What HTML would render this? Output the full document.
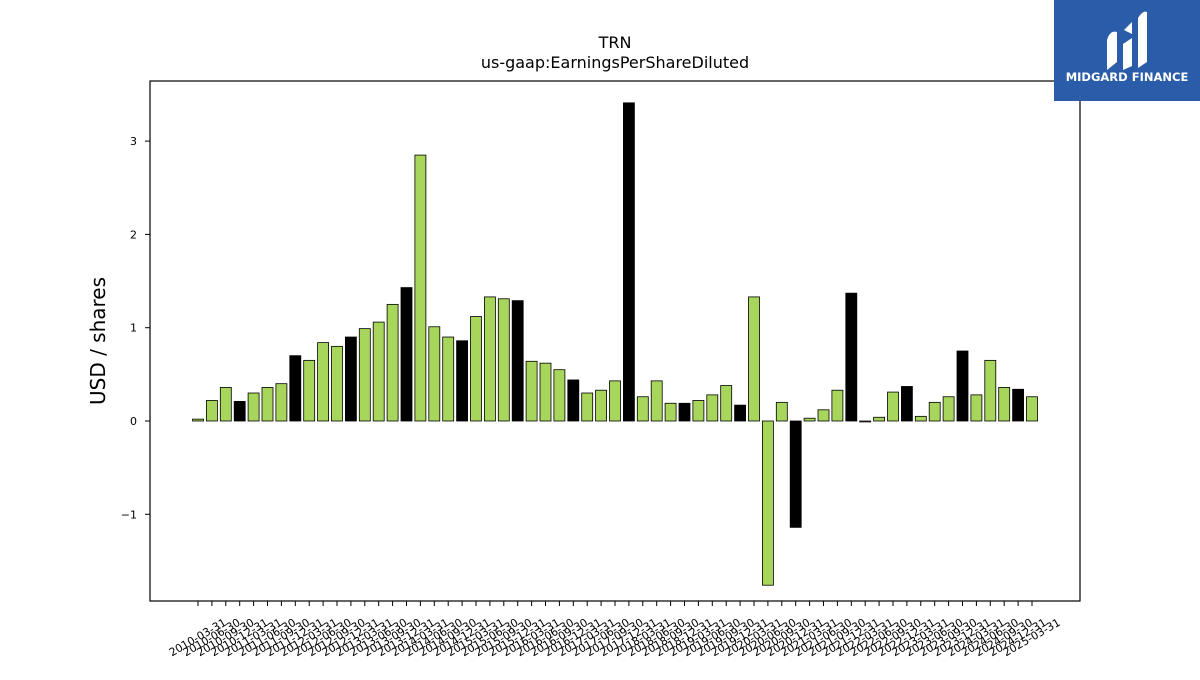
<!DOCTYPE html>
<html><head><meta charset="utf-8"><style>
body{margin:0;background:#fff;width:1200px;height:675px;overflow:hidden;font-family:"Liberation Sans","DejaVu Sans",sans-serif}
</style></head><body>
<svg id="chart" width="1200" height="675" xmlns="http://www.w3.org/2000/svg" font-family="DejaVu Sans, Liberation Sans, sans-serif">
<text x="615" y="48" font-size="16" text-anchor="middle">TRN</text>
<text x="615" y="68" font-size="16" text-anchor="middle">us-gaap:EarningsPerShareDiluted</text>
<text transform="translate(105,341) rotate(-90)" font-size="20" text-anchor="middle">USD / shares</text>
<g id="bars"></g><g id="yticks"></g><g id="xticks"></g>
<rect x="150" y="81" width="930" height="520" fill="none" stroke="#000" stroke-width="1.2"/>
<g>
<rect x="1054" y="0" width="146" height="101" fill="#2b5caa"/>
<path d="M1107 70 L1107 40 Q1110 30 1117 32 L1117 62 Z M1123 70 L1123 44 L1132 38 L1132 66 Z M1138 68 L1138 18 Q1143 10 1147 12 L1147 62 Z M1124 30 L1132 22 L1132 34 Z" fill="#fff"/>
<text x="1127" y="81" font-size="11.5" font-weight="bold" fill="#fff" text-anchor="middle">MIDGARD FINANCE</text>
</g>
</svg>
<script>
const categories=[];
for(let y=2010;y<=2025;y++){for(const q of ["03-31","06-30","09-30","12-31"]){if(y===2025&&q!=="03-31")break;categories.push(y+"-"+q);}}
const values=[0.02,0.22,0.36,0.21,0.30,0.36,0.40,0.70,0.65,0.84,0.80,0.90,0.99,1.06,1.25,1.43,2.85,1.01,0.90,0.86,1.12,1.33,1.31,1.29,0.64,0.62,0.55,0.44,0.30,0.33,0.43,3.41,0.26,0.43,0.19,0.19,0.22,0.28,0.38,0.17,1.33,-1.76,0.20,-1.14,0.03,0.12,0.33,1.37,-0.01,0.04,0.31,0.37,0.05,0.20,0.26,0.75,0.28,0.65,0.36,0.34,0.26];
const yTicks=[-1,0,1,2,3];
const yTickLabels=["\u22121","0","1","2","3"];
const NS="http://www.w3.org/2000/svg";
function yScale(v){return 421-v*93.3;}
function xScale(i){return 198+i*(1032-198)/(categories.length-1);}
const bars=document.getElementById("bars"),yt=document.getElementById("yticks"),xt=document.getElementById("xticks");
values.forEach((v,i)=>{
 const r=document.createElementNS(NS,"rect");
 
 
 const y0=yScale(0),y1=yScale(v);
 r.setAttribute("x",xScale(i)-5.5);r.setAttribute("width",11);
 r.setAttribute("y",Math.min(y0,y1));r.setAttribute("height",Math.max(Math.abs(y1-y0),0.8));
 r.setAttribute("fill",categories[i].endsWith("12-31")?"#000":"#a8d65c");
 r.setAttribute("stroke","#000");r.setAttribute("stroke-width","0.8");
 bars.appendChild(r);
});
yTicks.forEach((t,k)=>{
 const y=yScale(t);
 const l=document.createElementNS(NS,"line");
 
 
 l.setAttribute("x1",145);l.setAttribute("x2",150);l.setAttribute("y1",y);l.setAttribute("y2",y);l.setAttribute("stroke","#000");
 yt.appendChild(l);
 const tx=document.createElementNS(NS,"text");
 
 
 tx.setAttribute("x",137);tx.setAttribute("y",y+4);tx.setAttribute("font-size","11");tx.setAttribute("text-anchor","end");
 tx.textContent=yTickLabels[k];yt.appendChild(tx);
});
categories.forEach((c,i)=>{
 const x=xScale(i);
 const l=document.createElementNS(NS,"line");
 
 
 l.setAttribute("x1",x);l.setAttribute("x2",x);l.setAttribute("y1",601);l.setAttribute("y2",606);l.setAttribute("stroke","#000");
 xt.appendChild(l);
 const tx=document.createElementNS(NS,"text");
 
 
 tx.setAttribute("transform","translate("+x+",638) rotate(-30)");
 tx.setAttribute("font-size","11");tx.setAttribute("text-anchor","middle");tx.setAttribute("dominant-baseline","middle");
 tx.textContent=c;xt.appendChild(tx);
});
</script>
</body></html>
